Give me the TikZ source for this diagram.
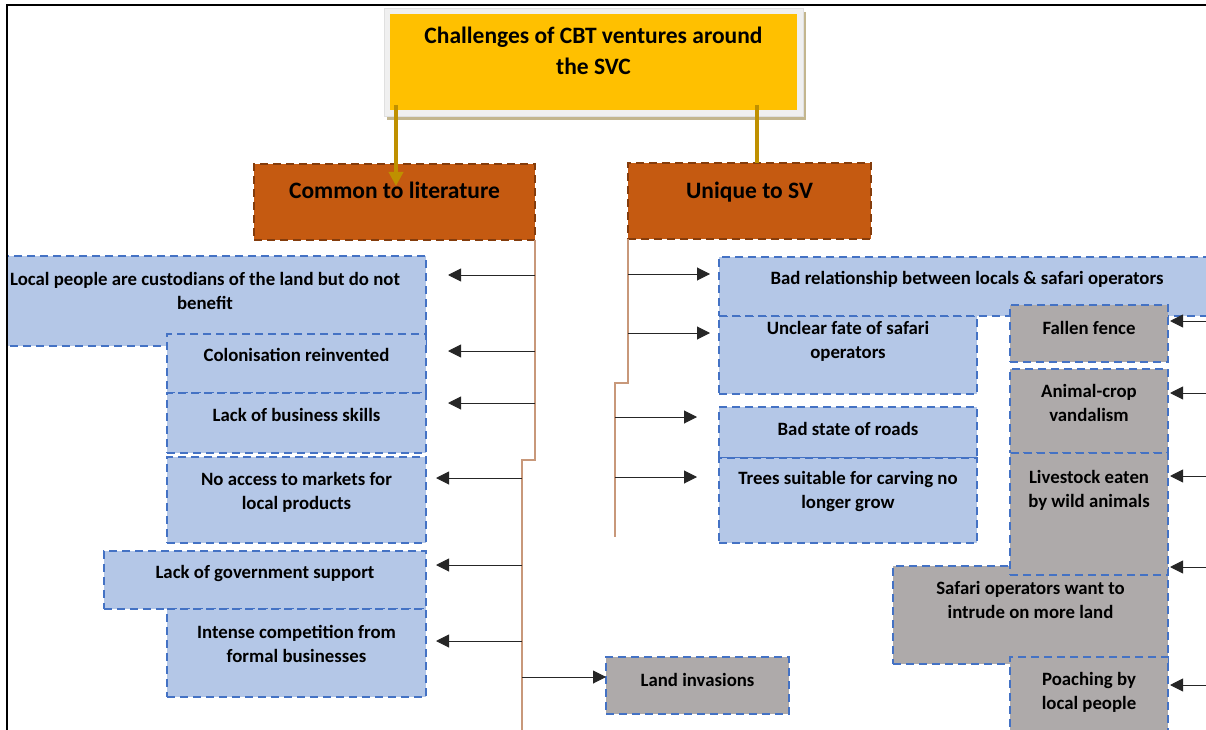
\documentclass[tikz,border=0pt]{standalone}
\usepackage{fontspec}
\setmainfont{Carlito}
\usepackage{tikz}
\usetikzlibrary{positioning, shadows, arrows.meta}
\definecolor{cbtyellow}{HTML}{FFC000}
\definecolor{cbtframe}{HTML}{F0F0F0}
\definecolor{cbtshadow}{HTML}{C3B68E}
\definecolor{cbtgold}{HTML}{BF9000}
\definecolor{cbtorange}{HTML}{C55A11}
\definecolor{cbtbrown}{HTML}{843C0C}
\definecolor{cbttrunk}{HTML}{C8987A}
\definecolor{cbtblue}{HTML}{4472C4}
\definecolor{cbtlight}{HTML}{B4C7E7}
\definecolor{cbtgray}{HTML}{AEAAAA}

\begin{document}
\begin{tikzpicture}[x=1pt, y=-1pt,
    titlebox/.style={rectangle, anchor=north west, fill=cbtframe, draw=black!12, line width=0.6pt, inner sep=0pt, outer sep=0pt, minimum width=419pt, minimum height=108pt,
        drop shadow={shadow xshift=3pt, shadow yshift=-4pt, fill=cbtshadow, opacity=1},
        path picture={\fill[cbtyellow] ([shift={(6pt,-6pt)}]path picture bounding box.north west) rectangle ([shift={(-6pt,6pt)}]path picture bounding box.south east);}},
    head/.style={rectangle, anchor=north west, fill=cbtorange, draw=cbtbrown, line width=2pt, dash pattern=on 8pt off 5pt, inner sep=0pt, outer sep=0pt},
    bluebox/.style={rectangle, anchor=north west, fill=cbtlight, draw=cbtblue, line width=2.2pt, dash pattern=on 8pt off 5pt, inner sep=0pt, outer sep=0pt},
    graybox/.style={bluebox, fill=cbtgray},
    wh/.style 2 args={minimum width=#1pt, minimum height=#2pt},
    lbl/.style={inner sep=0pt, align=center, font=\bfseries\fontsize{18.8}{24}\selectfont},
    hlbl/.style={inner sep=0pt, align=center, font=\bfseries\fontsize{23.5}{31}\selectfont},
    arr/.style={->, >={Triangle[length=13pt, width=13pt]}, line width=1pt, black!85},
    goldarr/.style={->, >={Triangle[length=14pt, width=14pt]}, line width=4pt, cbtgold},
    goldline/.style={line width=4pt, cbtgold},
    trunk/.style={line width=1.6pt, cbttrunk},
    frame/.style={line width=1.5pt, black}]

\useasboundingbox (0,0) rectangle (1206,730);

\begin{scope}
\clip (8,6) rectangle (1206,730);

% title and the two branches
\node[titlebox] (title) at (384,8) {};
\node[hlbl, below=19pt of title.north] (ttitle) {Challenges of CBT ventures around\\the SVC};

\node[head, wh={281}{76}] (common) at (254,164) {};
\node[hlbl, below=18pt of common.north] (tcommon) {Common to literature};
\node[head, wh={243}{76}] (unique) at (628,163) {};
\node[hlbl, below=19pt of unique.north] (tunique) {Unique to SV};

\draw[goldarr] ([xshift=12pt, yshift=11pt]title.south west) -- ([xshift=142pt, yshift=-22pt]common.north west);
\draw[goldline] ([xshift=-46pt, yshift=11pt]title.south east) -- ([xshift=129pt]unique.north west);

\draw[trunk] (common.south east) -- ++(0,220) -- ++(-13,0) -- ++(0,290);
\draw[trunk] (unique.south west) -- ++(0,144) -- ++(-13,0) -- ++(0,154);

% common to literature
\node[bluebox, wh={442}{90}] (local) at (-16,256) {};
\node[lbl, below=16pt of local.north] (tlocal) {Local people are custodians of the land but do not\\benefit};
\node[bluebox, wh={259}{59}] (colon) at (167,334) {};
\node[lbl, below=14pt of colon.north] (tcolon) {Colonisation reinvented};
\node[bluebox, wh={259}{60}, below=0pt of colon] (lackbiz) {};
\node[lbl, below=15pt of lackbiz.north] (tlackbiz) {Lack of business skills};
\node[bluebox, wh={259}{86}] (noaccess) at (167,457) {};
\node[lbl, below=15pt of noaccess.north] (tnoaccess) {No access to markets for\\local products};
\node[bluebox, wh={322}{58}] (lackgov) at (104,551) {};
\node[lbl, below=14pt of lackgov.north] (tlackgov) {Lack of government support};
\node[bluebox, wh={259}{88}] (intense) at (167,609) {};
\node[lbl, below=16pt of intense.north] (tintense) {Intense competition from\\formal businesses};
\node[graybox, wh={183}{57}] (landinv) at (606,657) {};
\node[lbl, below=16pt of landinv.north] (tlandinv) {Land invasions};

% unique to SV
\node[bluebox, wh={258}{78}] (unclear) at (719,316) {};
\node[lbl, below=5pt of unclear.north] (tunclear) {Unclear fate of safari\\operators};
\node[bluebox, wh={496}{59}] (badrel) at (719,257) {};
\node[lbl, below=14pt of badrel.north] (tbadrel) {Bad relationship between locals \& safari operators};
\node[bluebox, wh={258}{51}] (badroad) at (719,407) {};
\node[lbl, below=15pt of badroad.north] (tbadroad) {Bad state of roads};
\node[bluebox, wh={258}{85}, below=0pt of badroad] (trees) {};
\node[lbl, below=13pt of trees.north] (ttrees) {Trees suitable for carving no\\longer grow};

\node[graybox, wh={158}{57}] (fallen) at (1010,305) {};
\node[lbl, below=16pt of fallen.north] (tfallen) {Fallen fence};
\node[graybox, wh={158}{84}] (animal) at (1010,369) {};
\node[lbl, below=15pt of animal.north] (tanimal) {Animal-crop\\vandalism};
\node[graybox, wh={275}{98}] (safari) at (893,566) {};
\node[lbl, below=15pt of safari.north] (tsafari) {Safari operators want to\\intrude on more land};
\node[graybox, wh={158}{122}, below=0pt of animal] (livestock) {};
\node[lbl, below=17pt of livestock.north] (tlivestock) {Livestock eaten\\by wild animals};
\node[graybox, wh={158}{90}] (poach) at (1010,657) {};
\node[lbl, below=15pt of poach.north] (tpoach) {Poaching by\\local people};

% connectors
\coordinate (c1) at (535,275);
\coordinate (c2) at (535,351);
\coordinate (c3) at (535,403);
\coordinate (c4) at (522,478);
\coordinate (c5) at (522,565);
\coordinate (c6) at (522,641);
\coordinate (c7) at (522,677);
\draw[arr, shorten >=22pt] (c1) -- (c1 -| local.east);
\draw[arr, shorten >=22pt] (c2) -- (c2 -| colon.east);
\draw[arr, shorten >=22pt] (c3) -- (c3 -| lackbiz.east);
\draw[arr, shorten >=10pt] (c4) -- (c4 -| noaccess.east);
\draw[arr, shorten >=10pt] (c5) -- (c5 -| lackgov.east);
\draw[arr, shorten >=10pt] (c6) -- (c6 -| intense.east);
\draw[arr] (c7) -- (c7 -| landinv.west);

\coordinate (u1) at (628,274);
\coordinate (u2) at (628,333);
\coordinate (u3) at (615,417);
\coordinate (u4) at (615,477);
\draw[arr, shorten >=9pt] (u1) -- (u1 -| badrel.west);
\draw[arr, shorten >=9pt] (u2) -- (u2 -| unclear.west);
\draw[arr, shorten >=22pt] (u3) -- (u3 -| badroad.west);
\draw[arr, shorten >=22pt] (u4) -- (u4 -| trees.west);

\coordinate (r1) at (1215,321);
\coordinate (r2) at (1215,393);
\coordinate (r3) at (1215,476);
\coordinate (r4) at (1215,567);
\coordinate (r5) at (1215,685);
\draw[arr, shorten >=2pt] (r1) -- (r1 -| fallen.east);
\draw[arr, shorten >=2pt] (r2) -- (r2 -| animal.east);
\draw[arr, shorten >=2pt] (r3) -- (r3 -| livestock.east);
\draw[arr, shorten >=2pt] (r4) -- (r4 -| safari.east);
\draw[arr, shorten >=2pt] (r5) -- (r5 -| poach.east);
\end{scope}

\draw[frame] (7,735) -- (7,5) -- (1215,5);
\end{tikzpicture}
\end{document}
